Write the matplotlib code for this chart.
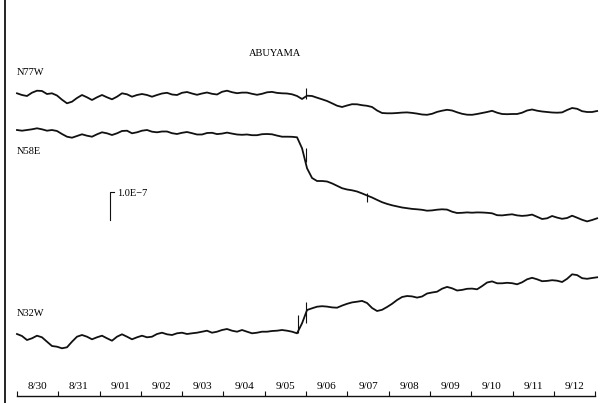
import numpy as np
import matplotlib.pyplot as plt

# Strain record, Abuyama station, 8/30 - 9/12
# values are trace positions (down = larger number),
# 28 units on this scale correspond to a strain of 1.0E-7
DT = 0.1211  # days between samples

dates = ['8/30', '8/31', '9/01', '9/02', '9/03', '9/04', '9/05',
         '9/06', '9/07', '9/08', '9/09', '9/10', '9/11', '9/12']

n77w = [93.3, 95, 96, 92.7, 90.7, 91, 94, 93.3, 95.5, 99.7,
        103.3, 101.7, 98, 95, 97.3, 100, 97.3, 95, 97.3, 99.3,
        96.7, 93.3, 94.3, 96.7, 95, 94, 95, 96.7, 95, 93.5,
        92.8, 94.5, 95, 92.8, 92, 93.5, 94.8, 93.5, 92.5, 93.8,
        94.5, 91.8, 90.7, 92.2, 93.2, 92.6, 92.6, 93.8, 94.8, 93.8,
        92.3, 91.9, 92.9, 93.3, 93.5, 94.3, 96, 99, 95.7, 96,
        97.7, 99.3, 101, 103.3, 105.7, 107, 105.5, 104.2, 104.3, 105.2,
        105.8, 107, 110.5, 113, 113.3, 113.3, 113, 112.6, 112.4, 112.9,
        113.6, 114.5, 114.8, 113.8, 111.9, 110.7, 109.8, 110.5, 112.3, 113.8,
        114.7, 114.8, 114, 113, 112, 110.8, 112.7, 114, 114.2, 114,
        114, 112.7, 110.5, 109.5, 110.7, 111.5, 112, 112.5, 112.7, 112.4,
        110, 108, 108.8, 111.2, 112, 112, 111]

n58e = [130, 130.7, 130, 129.3, 128.3, 129.3, 130.7, 130, 131, 134,
        136.7, 137.7, 136, 134.3, 135.7, 136.7, 134.3, 132.3, 133.3, 135,
        133.3, 131, 130.7, 133.3, 132.3, 130.7, 130, 131.7, 132.3, 131.5,
        131.5, 133.2, 134, 132.8, 132, 133.2, 134.5, 134.5, 133, 132.8,
        134.1, 133.6, 132.6, 133.6, 134.5, 134.8, 134.5, 135.2, 135.2, 134.2,
        134, 134.3, 135.6, 136.7, 136.7, 136.8, 137.3, 148.3, 168.3, 178,
        181, 181, 181.5, 183.4, 185.8, 188.2, 189.5, 190.3, 191.5, 193.4,
        195.5, 197.5, 199.9, 202.2, 203.9, 205.3, 206.4, 207.5, 208.2, 208.9,
        209.3, 209.8, 210.7, 210.4, 209.7, 209.3, 209.6, 211.7, 213, 212.8,
        212.4, 212.7, 212.4, 212.5, 212.8, 213.3, 215.2, 215.4, 214.8, 214.3,
        215.4, 215.9, 215.5, 214.6, 216.8, 219, 218.3, 216, 217.6, 218.8,
        218, 215.7, 217.7, 219.8, 221.4, 220, 218.3]

n32w = [334, 336, 340, 338.3, 335.7, 337.3, 341.7, 346, 346.7, 348.3,
        347.3, 341.7, 336.7, 335, 336.7, 339.3, 337.3, 335.7, 338.3, 340.7,
        336.7, 334.3, 336.7, 339.3, 337.3, 335.7, 337.3, 336.7, 334, 332.7,
        334.3, 335, 333.3, 332.7, 334, 333.3, 332.7, 331.7, 330.7, 332.7,
        331.7, 330, 329, 330.7, 331.7, 330, 331.7, 333.3, 332.7, 331.7,
        331.7, 331, 330.7, 330, 330.7, 331.7, 333.3, 323.3, 310, 308.3,
        306.7, 306.2, 306.6, 307.4, 307.7, 305.6, 303.8, 302.4, 301.7, 300.9,
        303, 308, 311, 309.8, 307, 303.8, 300, 297, 296, 296.4,
        297.6, 296.5, 293.5, 292.5, 291.7, 288.7, 286.9, 288.3, 290.5, 289.9,
        288.8, 288.6, 289.3, 286.1, 282.5, 281.4, 283.3, 283.3, 282.8, 283.2,
        284.3, 282.3, 279.3, 277.8, 279.3, 281.2, 280.9, 280.2, 280.7, 282,
        278.8, 274.3, 275.1, 278.2, 278.8, 278, 277.3]

# short spikes on the record: time (days), from, to
spike_t = [7.0, 7.0, 8.47, 6.8, 7.0]
spike_lo = [99.3, 161.7, 201.7, 333.3, 322.7]
spike_hi = [88.3, 148.3, 192.7, 315, 301.7]

fig = plt.figure(figsize=(6.03, 4.03), dpi=100)
ax = fig.add_axes([5 / 603, 0, 1 - 5 / 603, 1])
ax.set_xlim(-0.29, 14.19)
ax.set_ylim(403, 0)

t = np.arange(len(n77w)) * DT
for trace in (n77w, n58e, n32w):
    ax.plot(t, trace, color='#111111', lw=1.3)
ax.vlines(spike_t, spike_lo, spike_hi, color='#111111', lw=0.8)

serif = 'Liberation Serif'
ax.text(0.0, 72.5, 'N77W', fontsize=7.5, family=serif, va='center')
ax.text(0.0, 152, 'N58E', fontsize=7.5, family=serif, va='center')
ax.text(0.0, 313.5, 'N32W', fontsize=7.5, family=serif, va='center')
ax.text(6.25, 54, 'ABUYAMA', fontsize=7.5, family=serif, ha='center', va='center')

# scale bar
ax.plot([2.34, 2.25, 2.25], [191.7, 191.7, 219.7], color='#111111', lw=0.8)
ax.text(2.42, 194, '1.0E\u22127', fontsize=7.5, family=serif, va='center')

# time axis
days = np.arange(len(dates) + 1)
ax.plot([days[0], days[-1]], [396, 396], color='#111111', lw=1.0)
ax.vlines(days, 391, 396, color='#111111', lw=0.8)
for i, lab in enumerate(dates):
    ax.text(i + 0.5, 386.5, lab, fontsize=8, family=serif, ha='center', va='center')

for s in ('top', 'right', 'bottom'):
    ax.spines[s].set_visible(False)
ax.spines['left'].set_linewidth(1.2)
ax.set_xticks([])
ax.set_yticks([])

fig.savefig('out.png', dpi=100)
